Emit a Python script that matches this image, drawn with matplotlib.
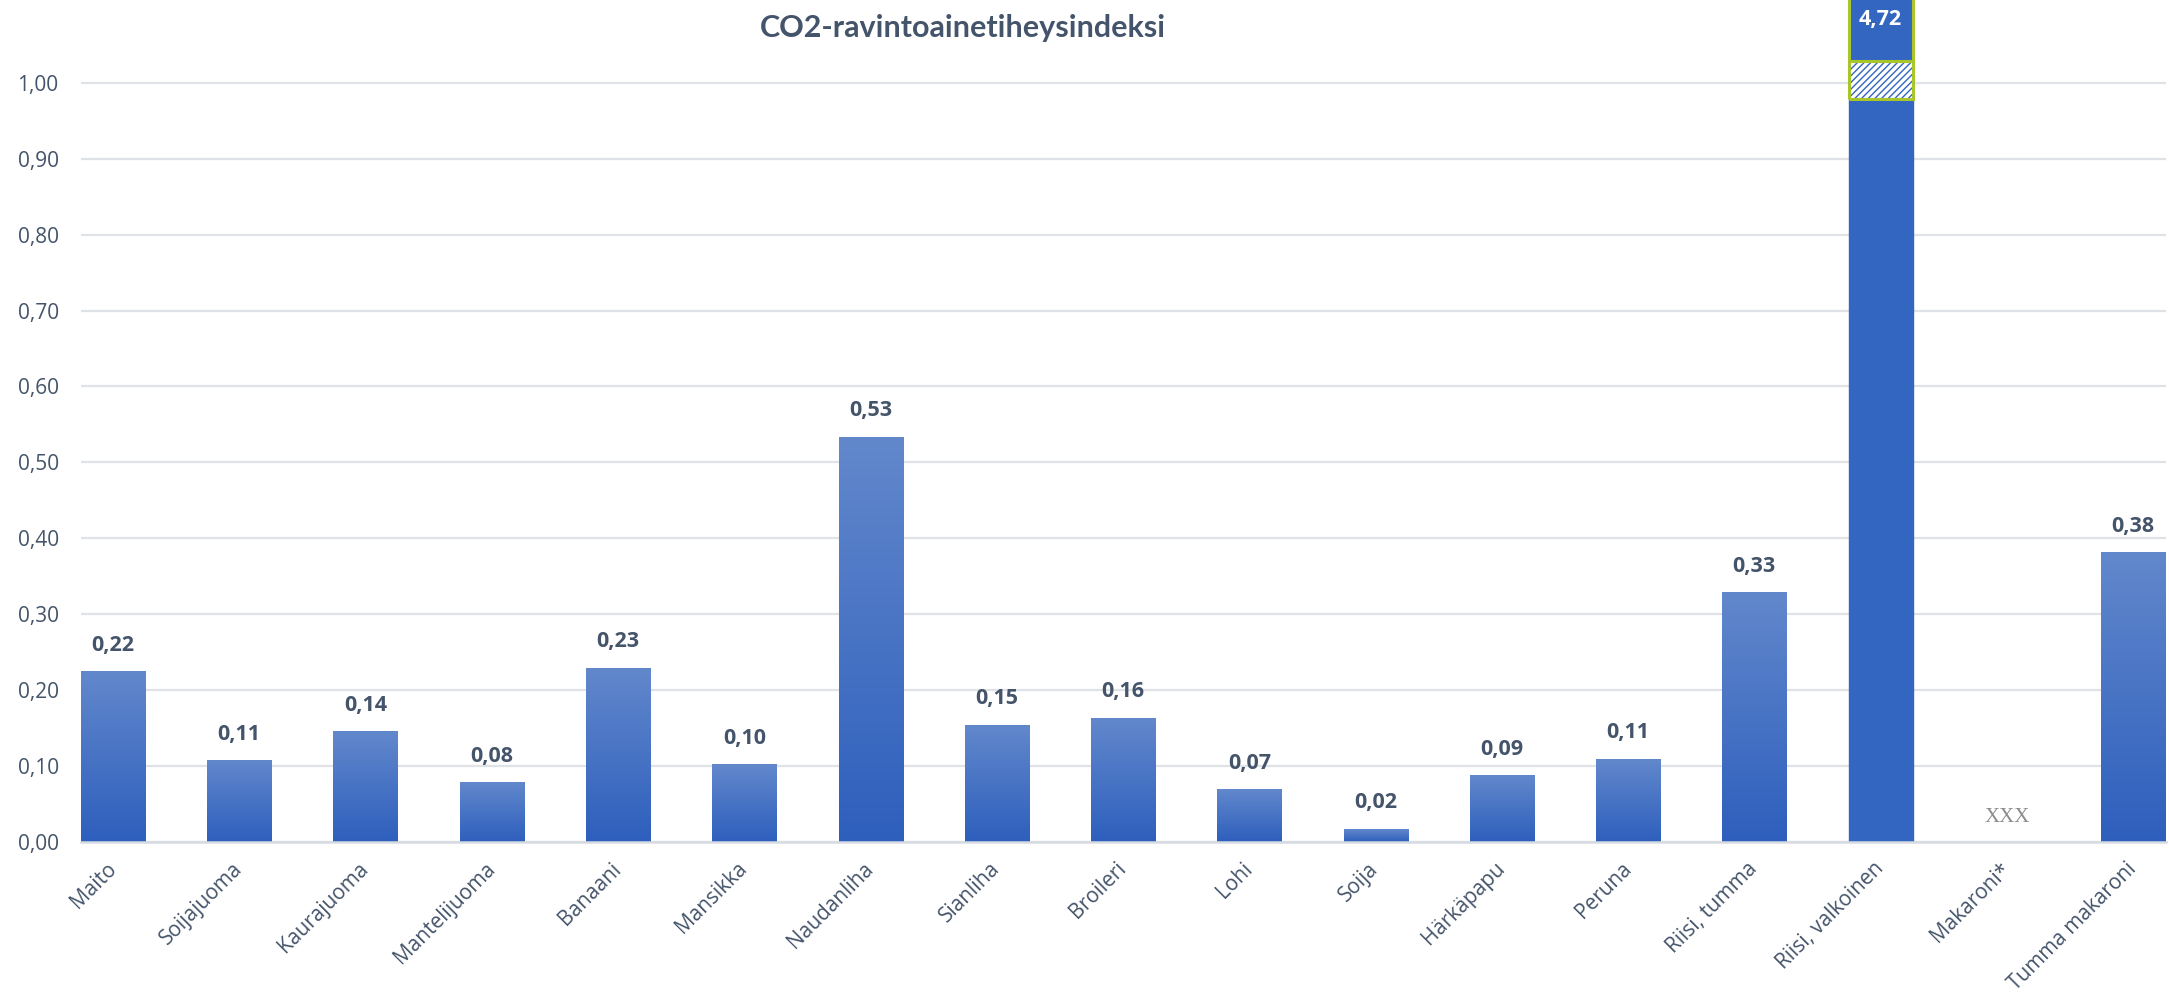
import numpy as np
import matplotlib.pyplot as plt
from matplotlib.colors import LinearSegmentedColormap
from matplotlib.patches import Rectangle

# data
foods = ['Maito', 'Soijajuoma', 'Kaurajuoma', 'Mantelijuoma', 'Banaani', 'Mansikka',
         'Naudanliha', 'Sianliha', 'Broileri', 'Lohi', 'Soija', 'Härkäpapu', 'Peruna',
         'Riisi, tumma', 'Riisi, valkoinen', 'Makaroni*', 'Tumma makaroni']
index = [0.224, 0.107, 0.145, 0.078, 0.229, 0.102, 0.533, 0.154, 0.163, 0.069, 0.017,
         0.087, 0.109, 0.328, 4.72, np.nan, 0.381]
missing_text = 'XXX'
missing_pos = 0.033
break_range = (0.979, 1.029)

text_col = '#44546a'
top_col = '#6288cc'
bot_col = '#2e5fbd'
solid_col = '#3366c0'
YMAX = 1.109

plt.rcParams['font.family'] = ['Open Sans', 'DejaVu Sans']

fig = plt.figure(figsize=(21.69, 9.93), dpi=100)
ax = fig.add_axes([0.0373, 0.152, 0.9613, 0.848])

x = np.arange(len(foods))
vals = np.nan_to_num(np.array(index, dtype=float))
bars = ax.bar(x, vals, width=0.507, color='none', zorder=2)

cmap = LinearSegmentedColormap.from_list('g', [bot_col, top_col])
grad = np.linspace(0, 1, 256).reshape(-1, 1)
for b, v in zip(bars, vals):
    if v <= 0:
        continue
    x0 = b.get_x()
    w = b.get_width()
    if v > YMAX:
        ax.add_patch(Rectangle((x0, 0), w, YMAX, color=solid_col, zorder=2))
        # axis break marker
        lo, hi = break_range
        ax.add_patch(Rectangle((x0, lo), w, hi - lo, facecolor='white',
                               edgecolor=solid_col, hatch='/////', lw=0, zorder=3))
        ax.add_patch(Rectangle((x0, lo), w, YMAX - lo + 0.01, facecolor='none',
                               edgecolor='#a8c62a', lw=2.2, zorder=4, clip_on=False))
        ax.plot([x0, x0 + w], [hi, hi], color='#a8c62a', lw=2.2, zorder=5)
        ax.text(x0 + w / 2, 1.083, f'{v:.2f}'.replace('.', ','), color='white',
                ha='center', va='center', fontsize=15.5, fontweight='bold', zorder=6)
    else:
        ax.imshow(grad, extent=[x0, x0 + w, 0, v], origin='lower', cmap=cmap,
                  aspect='auto', zorder=2)
        ax.text(x0 + w / 2, v + 0.021, f'{v:.2f}'.replace('.', ','), color=text_col,
                ha='center', va='bottom', fontsize=15.5, fontweight='bold')

for i, v in enumerate(index):
    if np.isnan(v):
        ax.text(i, missing_pos, missing_text, color='#8c8c8c', ha='center', va='center',
                fontsize=15, family='Liberation Serif')

ax.set_aspect('auto')
ax.set_xlim(-0.254, len(foods) - 1 + 0.26)
ax.set_ylim(0, YMAX)

yt = np.arange(0, 1.01, 0.1)
ax.set_yticks(yt)
ax.set_yticklabels([f'{t:.2f}'.replace('.', ',') for t in yt], fontsize=15, color=text_col)
ax.set_xticks(x)
ax.set_xticklabels(foods, rotation=45, ha='right', va='center', rotation_mode='anchor',
                   fontsize=15, color=text_col)
ax.tick_params(axis='x', length=0, pad=17)
ax.tick_params(axis='y', length=0, pad=16)

ax.grid(axis='y', color='#dfe2e7', lw=1.6, zorder=0)
ax.set_axisbelow(True)
for s in ['top', 'right', 'left']:
    ax.spines[s].set_visible(False)
ax.spines['bottom'].set_color('#d6dbe2')
ax.spines['bottom'].set_linewidth(1.8)

fig.text(0.444, 0.972, 'CO2-ravintoainetiheysindeksi', ha='center', va='center',
         fontsize=22, fontweight='bold', color=text_col, family=['Lato', 'DejaVu Sans'])

fig.savefig('out.png', dpi=100)
